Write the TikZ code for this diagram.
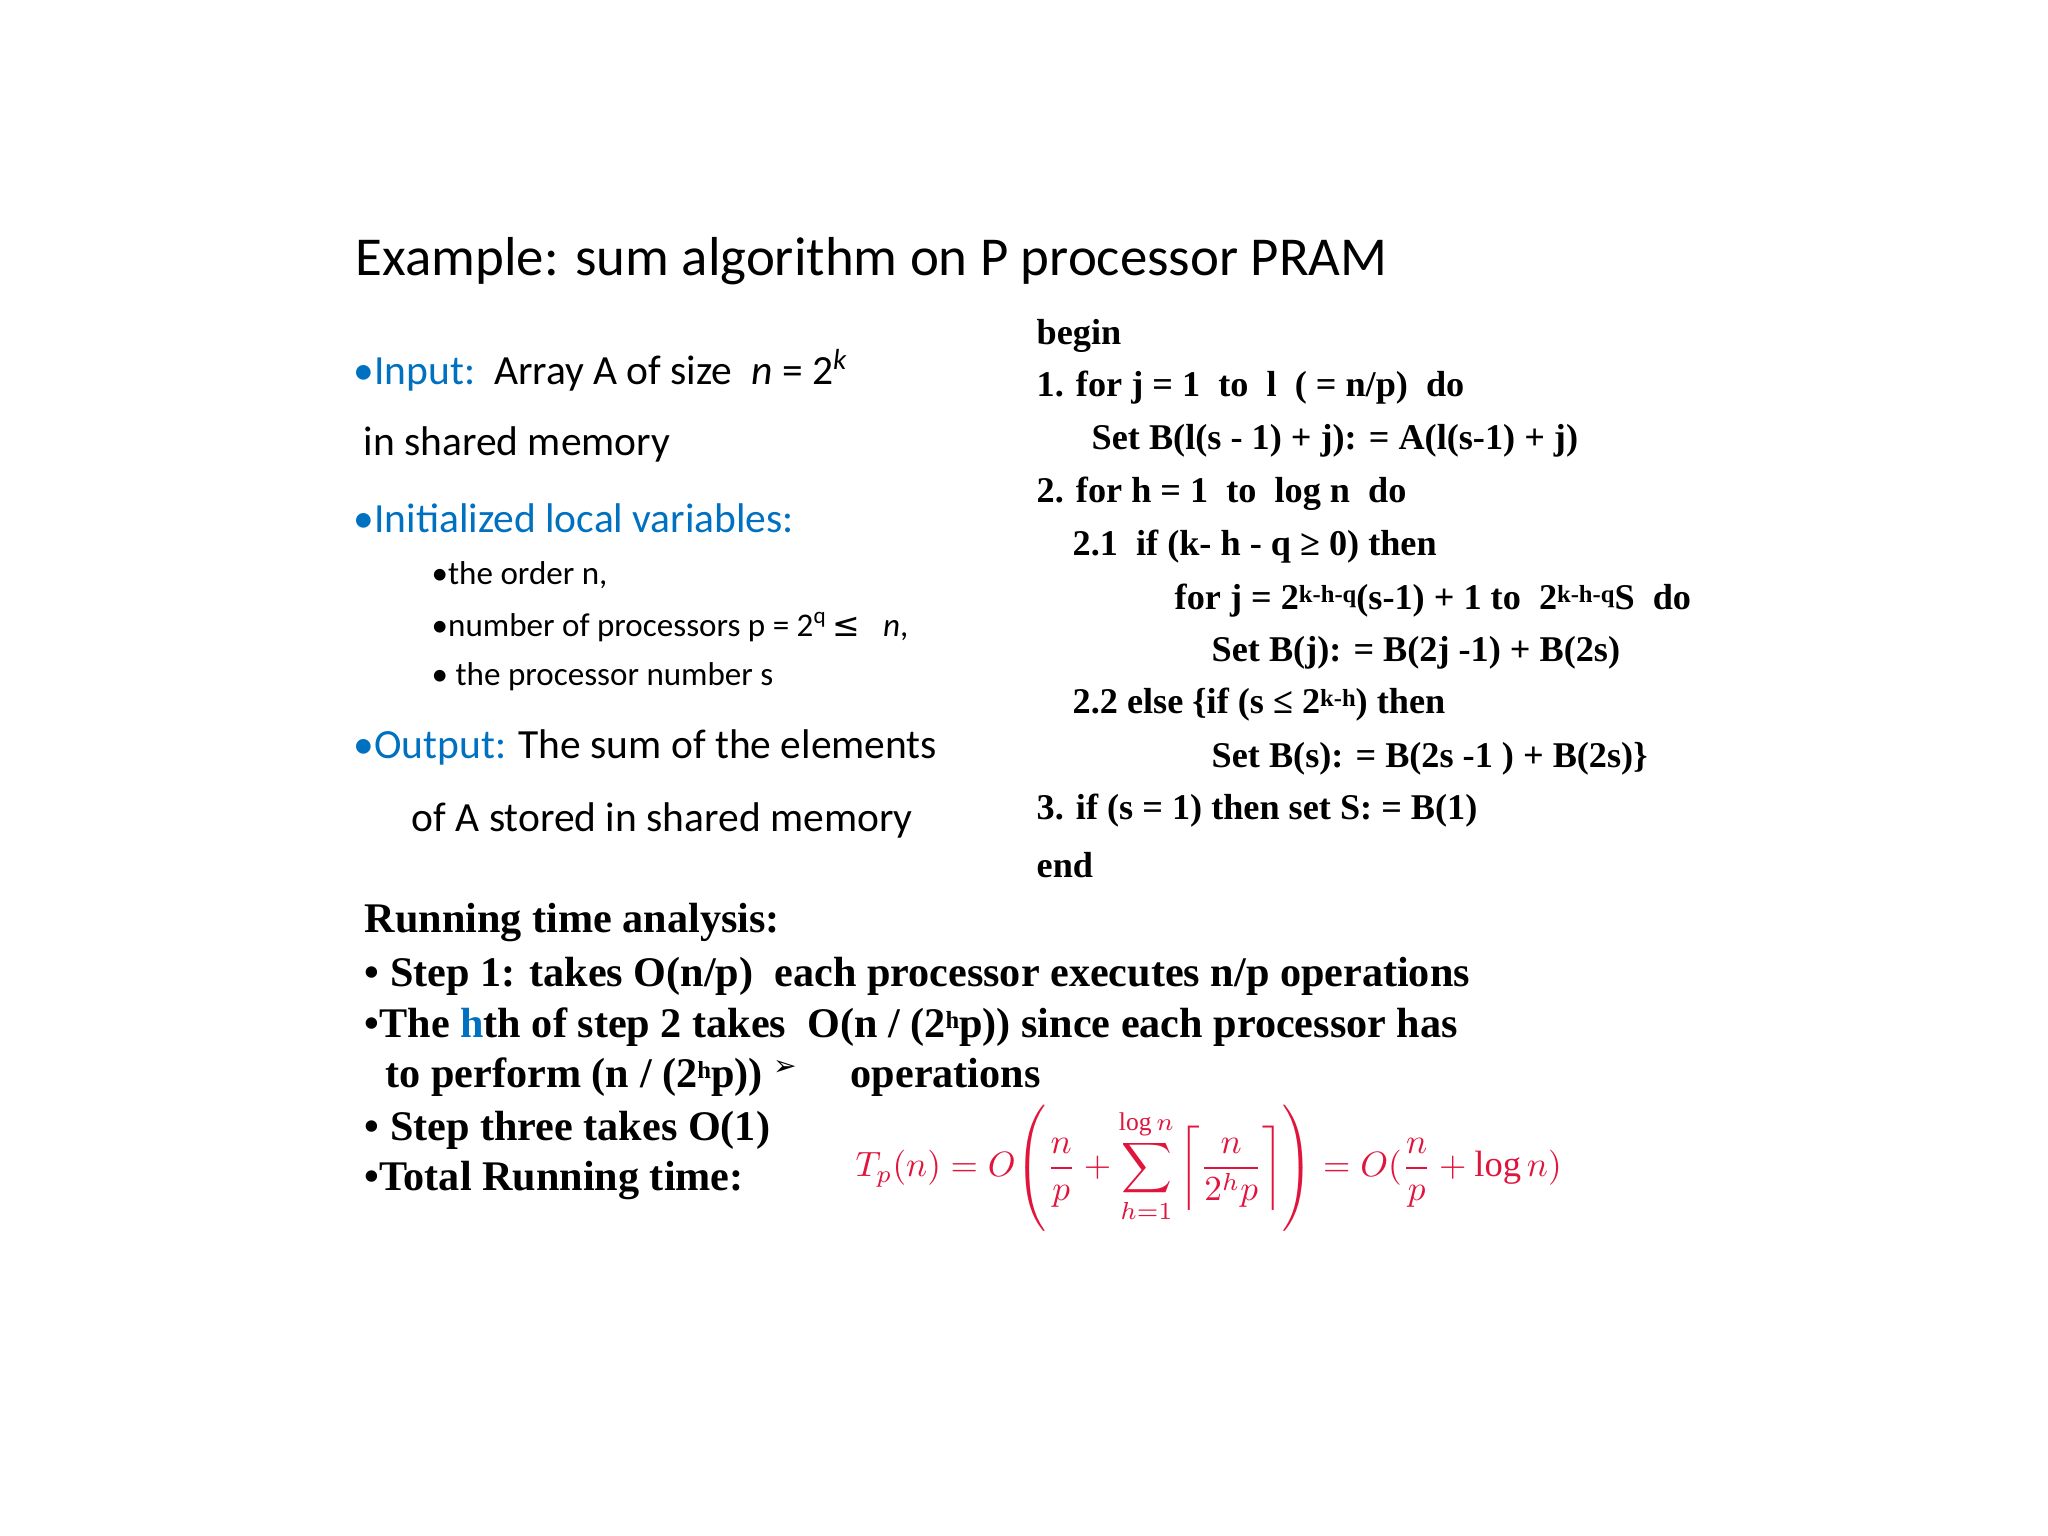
\documentclass[tikz,border=0pt]{standalone}
\usepackage{amsmath}
\usepackage{fontspec}
\setmainfont{Liberation Serif}
\newfontfamily\calfnt{Carlito}
\newfontfamily\djfnt{DejaVu Sans}
\definecolor{pblue}{RGB}{0,112,192}
\definecolor{fred}{RGB}{225,20,60}
\newcommand{\mysup}[1]{\raisebox{0.45ex}{\fontsize{7}{7}\selectfont #1}}
\begin{document}
\begin{tikzpicture}[x=0.01cm,y=-0.01cm,
  tl/.style={anchor=west,inner sep=0pt},
  ttl/.style={tl,font=\calfnt\fontsize{15.6}{18}\selectfont},
  lt/.style={tl,font=\calfnt\fontsize{11.8}{13}\selectfont},
  st/.style={tl,font=\calfnt\fontsize{9.4}{11}\selectfont},
  cd/.style={tl,font=\bfseries\fontsize{10.3}{12}\selectfont},
  rt/.style={tl,font=\bfseries\fontsize{12}{14}\selectfont}]
\useasboundingbox (0,0) rectangle (2048,1536);
\node[ttl] (t) at (355,261) {Example: sum algorithm on P processor PRAM};
\node[lt] (l1) at (353,370) {\textcolor{pblue}{•Input:}\ \ Array A of size\ \ \textit{n} = 2\textsuperscript{\textit{k}}};
\node[lt] (l2) at (363,444) {in shared memory};
\node[lt] (l3) at (353,518) {\textcolor{pblue}{•Initialized local variables:}};
\node[st] (l4) at (431,575) {•the order n,};
\node[st] (l5) at (431,627) {•number of processors p = 2\textsuperscript{q}{\djfnt\,≤}\ \ \ \textit{n},};
\node[st] (l6) at (431,677) {• the processor number s};
\node[lt] (l7) at (353,747) {\textcolor{pblue}{•Output:} The sum of the elements};
\node[lt] (l8) at (411,820) {of A stored in shared memory};
\node[cd] (c0) at (1036,336) {begin};
\node[cd] (c1) at (1036,388) {1. for j = 1\ \ to\ \ l\ \ ( = n/p)\ \ do};
\node[cd] (c2) at (1091,441) {Set B(l(s - 1) + j): = A(l(s-1) + j)};
\node[cd] (c3) at (1036,494) {2. for h = 1\ \ to\ \ log n\ \ do};
\node[cd] (c4) at (1072,547) {2.1\ \ if (k- h - q ≥ 0) then};
\node[cd] (c5) at (1174,601) {for j = 2\mysup{k-h-q}(s-1) + 1 to\ \ 2\mysup{k-h-q}S\ \ do};
\node[cd] (c6) at (1211,653) {Set B(j): = B(2j -1) + B(2s)};
\node[cd] (c7) at (1072,705) {2.2 else \{if (s ≤ 2\mysup{k-h}) then};
\node[cd] (c8) at (1211,759) {Set B(s): = B(2s -1 ) + B(2s)\}};
\node[cd] (c9) at (1036,811) {3. if (s = 1) then set S: = B(1)};
\node[cd] (c10) at (1036,865) {end};
\node[rt] (r0) at (364,923) {Running time analysis:};
\node[rt] (r1) at (364,976) {• Step 1: takes O(n/p)\ \ each processor executes n/p operations};
\node[rt] (r2) at (364,1027) {•The \textcolor{pblue}{h}th of step 2 takes\ \ O(n / (2\mysup{h}p)) since each processor has};
\node[rt] (r3) at (385,1077) {to perform (n / (2\mysup{h}p)) \raisebox{0.6ex}{\djfnt\mdseries\fontsize{8}{8}\selectfont ➢}};
\node[rt] (r3b) at (850,1077) {operations};
\node[rt] (r4) at (364,1130) {• Step three takes O(1)};
\node[rt] (r5) at (364,1181) {•Total Running time:};
\node[tl,text=fred,font=\fontsize{10.4}{12}\selectfont] (f) at (855,1168)
 {$T_p(n)=O\!\left(\dfrac{n}{p}+\displaystyle\sum_{h=1}^{\log n}\left\lceil\dfrac{n}{2^h p}\right\rceil\right)=O(\dfrac{n}{p}+\log n)$};
\end{tikzpicture}
\end{document}
